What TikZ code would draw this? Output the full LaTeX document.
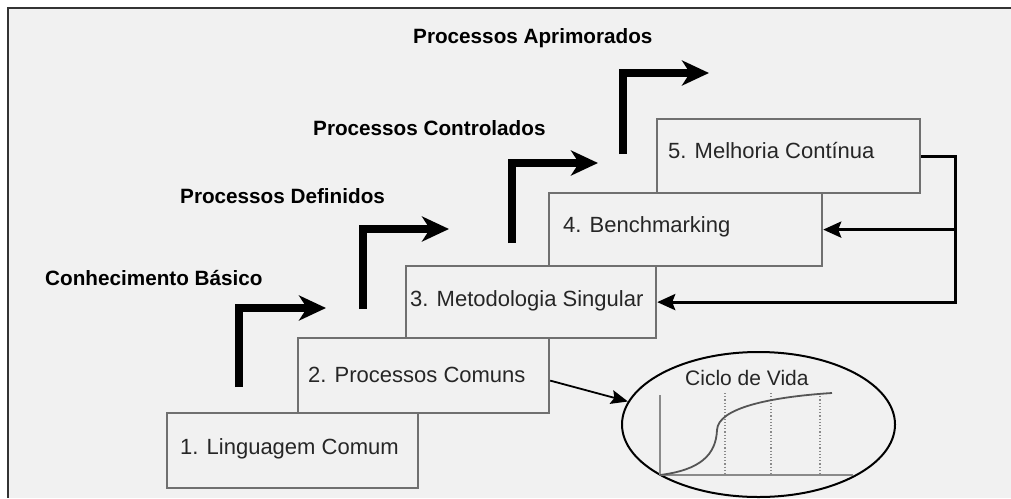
\documentclass[tikz,border=0pt]{standalone}
\usepackage{fontspec}
\setmainfont{Liberation Sans}
\usetikzlibrary{arrows.meta,shapes.geometric,calc}
\definecolor{bg}{HTML}{F1F1F1}
\definecolor{boxline}{HTML}{707070}
\definecolor{ink}{HTML}{262626}
\definecolor{frameline}{HTML}{333333}
\definecolor{chartgray}{HTML}{8A8A8A}
\definecolor{curvegray}{HTML}{555555}
\begin{document}
\begin{tikzpicture}[x=1pt,y=-1pt,
  stagebox/.style={draw=boxline,line width=2.2pt,anchor=north west,inner sep=0pt},
  stagetext/.style={anchor=base west,inner sep=0pt,text=ink,font=\fontsize{22}{26}\selectfont},
  leveltext/.style={anchor=base west,inner sep=0pt,text=black,font=\bfseries\fontsize{20.7}{24}\selectfont},
  riser/.style={line width=8pt,line join=miter,-{Stealth[length=27pt,width=25pt,inset=8pt]}},
  feedback/.style={line width=3pt,line join=miter,-{Stealth[length=18pt,width=16pt,inset=3pt]}},
  link/.style={line width=1.8pt,-{Stealth[length=17pt,width=14pt,inset=3pt]}},
  axisline/.style={draw=chartgray,line width=1.2pt},
  gridline/.style={draw=chartgray,line width=1.2pt,dotted}
]
\useasboundingbox (0,0) rectangle (1011,498);
% background and frame
\fill[white] (0,0) rectangle (1011,498);
\fill[bg] (8,8) rectangle (1011,498);
\draw[frameline,line width=2pt] (7,7.5) -- (1011,7.5);
\draw[frameline,line width=2pt] (8,7.5) -- (8,498);

% stage boxes
\node[stagebox,minimum width=251pt,minimum height=75pt] (b1) at (166,412) {};
\node[stagebox,minimum width=251pt,minimum height=75pt] (b2) at (297,337) {};
\node[stagebox,minimum width=250pt,minimum height=72pt] (b3) at (405,265) {};
\node[stagebox,minimum width=273pt,minimum height=73pt] (b4) at (548,192) {};
\node[stagebox,minimum width=263pt,minimum height=74pt] (b5) at (656,118) {};

% stage texts
\node[stagetext] (t1) at (180,454) {1. Linguagem Comum};
\node[stagetext] (t2) at (308,382) {2. Processos Comuns};
\node[stagetext] (t3) at (410,306) {3. Metodologia Singular};
\node[stagetext] (t4) at (563,232) {4. Benchmarking};
\node[stagetext] (t5) at (668,158) {5. Melhoria Contínua};

% level labels
\node[leveltext] (l1) at (45,285) {Conhecimento Básico};
\node[leveltext] (l2) at (180,203) {Processos Definidos};
\node[leveltext] (l3) at (313,135) {Processos Controlados};
\node[leveltext] (l4) at (413,43) {Processos Aprimorados};

% riser arrows
\coordinate (r1a) at (239,387); \coordinate (r1b) at (239,308); \coordinate (r1c) at (326,308);
\coordinate (r2a) at (363,309); \coordinate (r2b) at (363,229); \coordinate (r2c) at (449,229);
\coordinate (r3a) at (512,243); \coordinate (r3b) at (512,163); \coordinate (r3c) at (598,163);
\coordinate (r4a) at (623,154); \coordinate (r4b) at (623,73);  \coordinate (r4c) at (709,73);
\draw[riser] (r1a) -- (r1b) -- (r1c);
\draw[riser] (r2a) -- (r2b) -- (r2c);
\draw[riser] (r3a) -- (r3b) -- (r3c);
\draw[riser] (r4a) -- (r4b) -- (r4c);

% feedback loop
\coordinate (fbx) at (955,0);
\draw[feedback] (b5.east) -- (b5.east -| fbx) -- (b3.east -| fbx) -- (b3.east);
\draw[feedback] (b4.east -| fbx) -- (b4.east);

% life cycle ellipse
\node[ellipse,draw=black,line width=2pt,minimum width=273pt,minimum height=145pt,inner sep=0pt] (ell) at (758.5,424.5) {};
\node[anchor=base west,inner sep=0pt,text=ink,font=\fontsize{21}{25}\selectfont] (cv) at (685,385) {Ciclo de Vida};
\draw[axisline] (660,395) -- (660,475);
\draw[gridline] (725,393) -- (725,475);
\draw[gridline] (771,393) -- (771,475);
\draw[gridline] (820,393) -- (820,475);
\draw[axisline,line width=1.6pt] (660,475) -- (853,475);
\draw[curvegray,line width=1.8pt] (660,475) .. controls (700,470) and (716,455) .. (717,430)
  .. controls (718,408) and (770,397) .. (832,393);

\draw[link] ([yshift=-5pt]b2.east) -- (ell.170);
\end{tikzpicture}
\end{document}
